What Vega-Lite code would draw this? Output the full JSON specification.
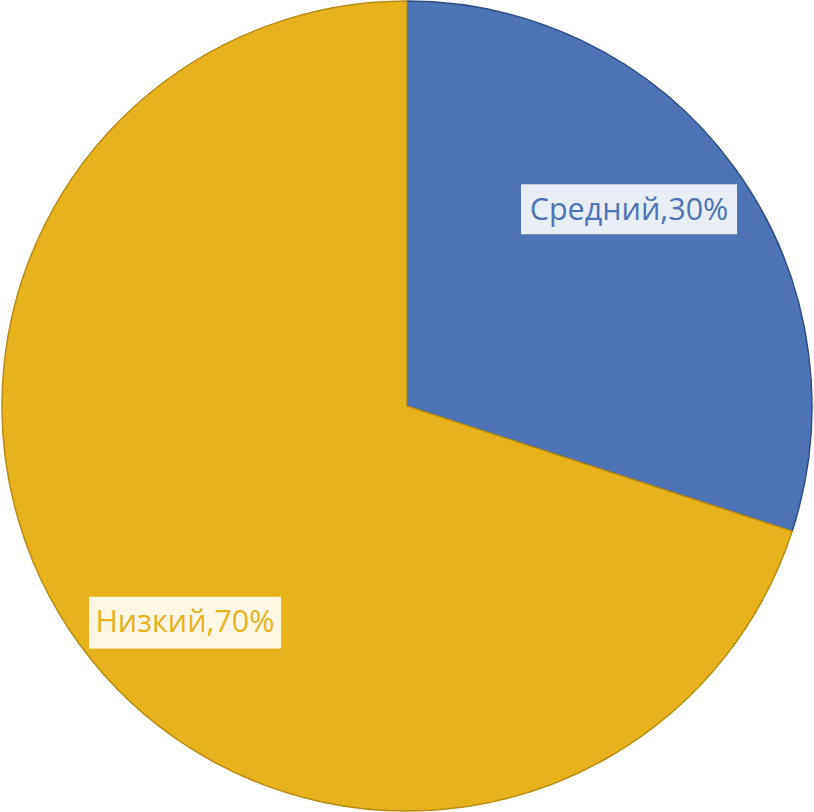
{
  "$schema": "https://vega.github.io/schema/vega-lite/v6.json",
  "width": 814,
  "height": 812,
  "autosize": {"type": "fit", "contains": "padding"},
  "padding": 0,
  "background": "white",
  "view": {"stroke": null},
  "data": {"values": [
    {"category": "Средний", "value": 30},
    {"category": "Низкий", "value": 70}
  ]},
  "transform": [
    {"joinaggregate": [{"op": "sum", "field": "value", "as": "total"}]},
    {"window": [{"op": "sum", "field": "value", "as": "cum"}], "sort": [{"field": "category", "order": "descending"}], "frame": [null, 0]},
    {"calculate": "2*PI*(datum.cum - datum.value/2)/datum.total - 0.12", "as": "mid"},
    {"calculate": "0.75*sin(datum.mid)", "as": "lx"},
    {"calculate": "0.75*cos(datum.mid)", "as": "ly"},
    {"calculate": "datum.category + ',' + round(100*datum.value/datum.total) + '%'", "as": "label"}
  ],
  "layer": [
    {
      "mark": {"type": "arc", "outerRadius": 405, "strokeWidth": 1.5},
      "encoding": {
        "theta": {"field": "value", "type": "quantitative", "stack": true},
        "order": {"field": "category", "sort": "descending"},
        "color": {"field": "category", "type": "nominal", "scale": {"domain": ["Средний", "Низкий"], "range": ["#4E73B6", "#E7B21C"]}, "legend": null},
        "stroke": {"field": "category", "type": "nominal", "scale": {"domain": ["Средний", "Низкий"], "range": ["#2F4D84", "#B88C12"]}, "legend": null}
      }
    },
    {
      "transform": [{"filter": "datum.category == 'Средний'"}],
      "mark": {"type": "point", "shape": "M-1,-0.2315H1V0.2315H-1Z", "size": 46656, "filled": true, "fill": "white", "fillOpacity": 0.88, "strokeWidth": 0, "yOffset": 9},
      "encoding": {
        "x": {"field": "lx", "type": "quantitative", "scale": {"domain": [-1.005, 1.005]}, "axis": null},
        "y": {"field": "ly", "type": "quantitative", "scale": {"domain": [-1.0025, 1.0025]}, "axis": null}
      }
    },
    {
      "transform": [{"filter": "datum.category == 'Низкий'"}],
      "mark": {"type": "point", "shape": "M-1,-0.27H1V0.27H-1Z", "size": 36864, "filled": true, "fill": "white", "fillOpacity": 0.88, "strokeWidth": 0, "yOffset": 11},
      "encoding": {
        "x": {"field": "lx", "type": "quantitative", "scale": {"domain": [-1.005, 1.005]}, "axis": null},
        "y": {"field": "ly", "type": "quantitative", "scale": {"domain": [-1.0025, 1.0025]}, "axis": null}
      }
    },
    {
      "mark": {"type": "text", "font": "Open Sans", "fontSize": 30.5, "baseline": "middle", "align": "center", "yOffset": 11},
      "encoding": {
        "x": {"field": "lx", "type": "quantitative", "scale": {"domain": [-1.005, 1.005]}, "axis": null},
        "y": {"field": "ly", "type": "quantitative", "scale": {"domain": [-1.0025, 1.0025]}, "axis": null},
        "text": {"field": "label"},
        "color": {"field": "category", "type": "nominal", "legend": null}
      }
    }
  ]
}
